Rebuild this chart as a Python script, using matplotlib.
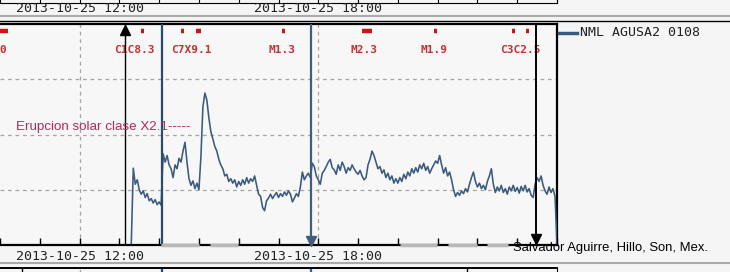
import matplotlib.pyplot as plt
import numpy as np
from matplotlib.lines import Line2D
from matplotlib.transforms import blended_transform_factory

# AGUSA2 count rate (arbitrary units), 3 min samples from 13:18 UT
t0 = 13.3
dt = 0.05
rate = [
    0.03, 1.39, 1.10, 1.18, 1.00, 0.92, 0.98, 0.86, 0.93, 0.80,
    0.84, 0.76, 0.82, 0.73, 0.78, 0.72, 1.65, 1.50, 1.62, 1.45,
    1.38, 1.22, 1.45, 1.38, 1.57, 1.50, 1.70, 1.86, 1.50, 1.20,
    1.08, 1.16, 1.02, 1.12, 1.00, 1.60, 2.50, 2.75, 2.62, 2.30,
    2.05, 1.92, 1.78, 1.70, 1.55, 1.45, 1.38, 1.25, 1.28, 1.15,
    1.20, 1.12, 1.18, 1.05, 1.15, 1.08, 1.18, 1.10, 1.22, 1.12,
    1.20, 1.15, 1.25, 1.08, 0.92, 0.88, 0.68, 0.62, 0.80, 0.85,
    0.92, 0.84, 0.90, 0.95, 0.86, 0.93, 0.88, 0.96, 0.90, 0.98,
    0.92, 0.78, 0.85, 0.93, 0.88, 1.05, 1.32, 1.18, 1.25, 1.30,
    1.22, 1.48, 1.42, 1.25, 1.18, 1.10, 1.30, 1.35, 1.42, 1.50,
    1.55, 1.40, 1.36, 1.28, 1.45, 1.35, 1.50, 1.42, 1.30, 1.40,
    1.35, 1.45, 1.38, 1.32, 1.28, 1.35, 1.25, 1.18, 1.22, 1.45,
    1.55, 1.70, 1.62, 1.50, 1.38, 1.42, 1.30, 1.36, 1.22, 1.30,
    1.18, 1.25, 1.12, 1.20, 1.12, 1.22, 1.15, 1.28, 1.20, 1.32,
    1.25, 1.38, 1.30, 1.40, 1.32, 1.45, 1.38, 1.48, 1.35, 1.42,
    1.30, 1.38, 1.45, 1.52, 1.48, 1.62, 1.45, 1.30, 1.40, 1.25,
    1.32, 1.18, 1.00, 0.88, 0.95, 0.90, 0.98, 0.93, 1.02, 0.96,
    1.10, 1.22, 1.32, 1.15, 1.05, 1.12, 1.02, 1.08, 1.00, 1.15,
    1.25, 1.38, 1.10, 0.95, 1.05, 0.98, 1.08, 0.95, 1.02, 0.92,
    1.05, 0.98, 1.08, 0.97, 1.04, 0.94, 1.06, 0.98, 1.08, 0.96,
    1.02, 0.90, 0.86, 1.10, 1.22, 1.15, 1.25, 1.08, 0.98, 0.92,
    1.05, 0.95, 1.02, 0.88, 0.02,
]
hours = t0 + dt * np.arange(len(rate))

# event markers (UT hours)
event_t = [13.14, 14.07, 17.81, 23.47]
event_col = ["black", "#2e4a6b", "#415d7d", "black"]
event_lw = [1.0, 1.6, 1.6, 1.4]

# GOES flares
flare_start = [10.0, 13.14, 13.54, 14.55, 14.92, 17.09, 19.10, 20.90, 22.86, 23.22]
flare_end = [10.2, 13.22, 13.62, 14.62, 15.05, 17.16, 19.35, 20.98, 22.94, 23.29]
flare_lbl_t = [10.07, 13.37, 14.82, 17.09, 19.15, 20.90, 23.07]
flare_lbl = ["0", "C1C8.3", "C7X9.1", "M1.3", "M2.3", "M1.9", "C3C2.5"]

# missing data bits along the time axis
gap_start = [14.05, 15.28, 20.05, 21.26, 22.24]
gap_end = [15.00, 15.98, 20.98, 21.98, 22.76]

date_ticks = [12, 18]
date_lbl = ["2013-10-25 12:00", "2013-10-25 18:00"]

line_col = "#3a5a80"
bg = "#f5f5f5"
W, H = 730, 272

fig = plt.figure(figsize=(7.3, 2.72), dpi=100, facecolor=bg)

ax = fig.add_axes([0, 27 / H, 557 / W, 221 / H])
ax.set_facecolor("#f7f7f7")
ax.set_xlim(10, 24)
ax.set_ylim(0, 4)
for v in [1, 2, 3]:
    ax.axhline(v, color="#a5a5a5", ls=(0, (3, 3)), lw=0.9, zorder=1)
for t in date_ticks:
    ax.axvline(t, color="#a5a5a5", ls=(0, (3, 3)), lw=0.9, zorder=1)

ax.plot(hours, rate, color=line_col, lw=1.15, zorder=3)

for t, c, w in zip(event_t, event_col, event_lw):
    ax.axvline(t, color=c, lw=w, zorder=4)
ax.plot([event_t[0]], [3.9], marker="^", color="black", ms=7, zorder=5, clip_on=False)
ax.plot([event_t[2]], [0.08], marker="v", color=event_col[2], ms=7, zorder=5, clip_on=False)
ax.plot([event_t[3]], [0.1], marker="v", color="black", ms=7, zorder=5, clip_on=False)

for a, b in zip(flare_start, flare_end):
    ax.plot([a, b], [3.87, 3.87], color="#cc1515", lw=3.2, solid_capstyle="butt", zorder=2)
for t, s in zip(flare_lbl_t, flare_lbl):
    ax.text(t, 3.53, s, color="#c83030", fontsize=8, family="DejaVu Sans Mono",
            fontweight="bold", ha="center", va="center", zorder=2)

ax.text(10.4, 2.14, "Erupcion solar clase X2.1-----", color="#b8285c", fontsize=9.6,
        family="Liberation Sans", ha="left", va="center", zorder=6)

for a, b in zip(gap_start, gap_end):
    ax.plot([a, b], [0, 0], color="#b8b8b8", lw=2.5, solid_capstyle="butt",
            zorder=7, clip_on=False)

for s in ["top", "bottom", "right"]:
    ax.spines[s].set_linewidth(1.6)
ax.spines["left"].set_visible(False)
ax.set_xticks(np.arange(10, 25, 1))
ax.tick_params(axis="x", direction="in", length=5, width=1, labelbottom=False)
ax.set_yticks([])

# strip above
top = fig.add_axes([0, 269 / H, 557 / W, 0.1])
top.set_facecolor(bg)
top.set_xlim(10, 24)
top.spines["left"].set_visible(False)
top.spines["top"].set_visible(False)
top.set_xticks(np.arange(10, 25, 1))
top.tick_params(axis="x", direction="in", length=3, labelbottom=False)
top.set_yticks([])

# strip below
low = fig.add_axes([0, -0.05, 557 / W, 0.05 + 4 / H])
low.set_facecolor(bg)
low.set_xlim(10, 24)
low.set_ylim(0, 1)
low.spines["left"].set_visible(False)
low.spines["bottom"].set_visible(False)
low.spines["top"].set_linewidth(1.4)
low.axvline(12, color="#a5a5a5", ls=(0, (3, 3)), lw=0.9)
for t, c, w in zip([10.55, 14.07, 17.81, 21.73], ["black", "#2e4a6b", "#415d7d", "black"],
                   [1.0, 1.6, 1.6, 1.0]):
    low.axvline(t, color=c, lw=w)
low.set_xticks([])
low.set_yticks([])

fig.add_artist(Line2D([0, 1], [256 / H, 256 / H], color="#aaaaaa", lw=1.5))
fig.add_artist(Line2D([0, 1], [251 / H, 251 / H], color="black", lw=1.0))
fig.add_artist(Line2D([0, 1], [9 / H, 9 / H], color="#aaaaaa", lw=1.5))

tr = blended_transform_factory(ax.transData, fig.transFigure)
for t, s in zip(date_ticks, date_lbl):
    fig.text(t, (H - 8) / H, s, transform=tr, ha="center", va="center",
             fontsize=9.5, family="DejaVu Sans Mono", color="#222222")
    fig.text(t, (H - 256) / H, s, transform=tr, ha="center", va="center",
             fontsize=9.5, family="DejaVu Sans Mono", color="#222222")

# legend
fig.add_artist(Line2D([559 / W, 577 / W], [(H - 33) / H] * 2, color=line_col, lw=2.5))
fig.text(580 / W, (H - 33) / H, "NML AGUSA2 0108", ha="left", va="center",
         fontsize=9.5, family="DejaVu Sans Mono", color="#222222")

fig.text(513 / W, (H - 248) / H, "Salvador Aguirre, Hillo, Son, Mex.", ha="left",
         va="center", fontsize=9.4, family="Liberation Sans", color="black", zorder=10)

fig.savefig("out.png", dpi=100, facecolor=bg)
